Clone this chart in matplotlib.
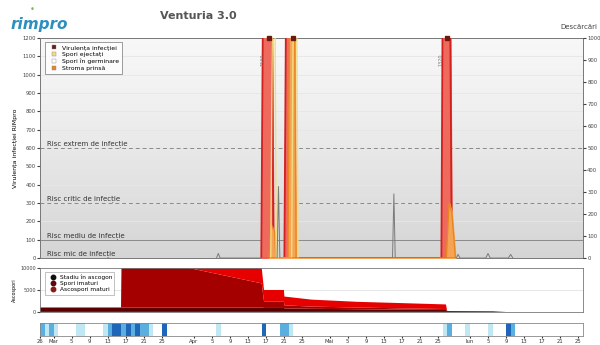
import numpy as np
import matplotlib.pyplot as plt

plt.rcParams['font.family'] = ['DejaVu Sans']

# zile numarate de la 26 februarie
vir_days = [48.9, 49.3, 51.2, 51.6, 54.0, 54.4, 56.0, 56.4, 88.7, 89.0, 90.6, 91.0]
vir_vals = [0, 1500, 1500, 0, 0, 1500, 1500, 0, 0, 1500, 1500, 0]

stroma_days = [50.6, 51.0, 51.8, 52.1, 54.8, 55.2, 56.2, 56.6, 89.8, 90.4, 91.0, 91.8]
stroma_vals = [0, 180, 150, 0, 0, 1500, 1500, 0, 0, 300, 250, 0]

eject_days = [51.0, 51.4, 51.9, 52.2, 55.6, 56.0, 56.7, 57.0]
eject_vals = [0, 1500, 1500, 0, 0, 1500, 1500, 0]

germ_days = [39.0, 39.4, 39.8, 52.4, 52.7, 53.0, 77.9, 78.2, 78.5,
             92.0, 92.4, 92.8, 98.5, 99.0, 99.5, 103.5, 104.0, 104.5]
germ_vals = [0, 25, 0, 0, 390, 0, 0, 350, 0, 0, 20, 0, 0, 25, 0, 0, 20, 0]

top_days = [50.7, 55.9, 90.0]
top_labels = ['1530', '', '1320']

risk_levels = [600, 300, 100, 0]
risk_names = ['Risc extrem de infecție', 'Risc critic de infecție',
              'Risc mediu de infecție', 'Risc mic de infecție']

# ascospori (stive)
asc_days = [0, 17.9, 18, 33, 49, 49.5, 53.9, 54, 60, 70, 80, 89.7, 90, 100, 103, 120]
asc_l1 = [1000, 1000, 1000, 1000, 1000, 900, 900, 800, 700, 600, 500, 450, 200, 150, 0, 0]
asc_l2 = [0, 0, 9000, 9000, 5500, 1500, 1500, 700, 500, 400, 300, 200, 0, 0, 0, 0]
asc_l3 = [0, 0, 0, 0, 3500, 2600, 2600, 2000, 1600, 1300, 1200, 1050, 0, 0, 0, 0]
asc_names = ['Stadiu în ascogon', 'Spori imaturi', 'Ascospori maturi']

# umezeala frunzei
wet_days = [0, 1, 2, 3, 8, 9, 14, 15, 16, 17, 18, 19, 20, 21, 22, 23, 24, 27, 39,
            49, 53, 54, 55, 89, 90, 94, 99, 103, 104]
wet_lvl = [2, 1, 2, 1, 1, 1, 1, 2, 3, 3, 2, 3, 2, 3, 2, 2, 1, 3, 1,
           3, 2, 2, 1, 1, 2, 1, 1, 3, 2]

tick_days = [0, 3, 7, 11, 15, 19, 23, 27, 34, 38, 42, 46, 50, 54, 58,
             64, 68, 72, 76, 80, 84, 88, 95, 99, 103, 107, 111, 115, 119]
tick_labels = ['26', 'Mar', '5', '9', '13', '17', '21', '25', 'Apr', '5', '9',
               '13', '17', '21', '25', 'Mai', '5', '9', '13', '17', '21', '25',
               'Iun', '5', '9', '13', '17', '21', '25']

fig = plt.figure(figsize=(6, 3.45), dpi=100)
ax = fig.add_axes([0.0667, 0.252, 0.905, 0.638])
ax2 = ax.twinx()
axa = fig.add_axes([0.0667, 0.096, 0.905, 0.127])
axw = fig.add_axes([0.0667, 0.026, 0.905, 0.038])

# fundal gradient gri
grad = np.linspace(0, 1, 100).reshape(-1, 1)
ax.imshow(grad, extent=[0, 120, 0, 1200], aspect='auto', cmap='Greys',
          vmin=-0.3, vmax=4.5, origin='upper', zorder=0)
ax.set_xlim(0, 120)
ax.set_ylim(0, 1200)
for y in range(100, 1300, 100):
    ax.axhline(y, color='#e6e6e6', lw=0.6, zorder=1)

for lvl, name in zip(risk_levels, risk_names):
    if lvl > 0:
        ls = '-' if lvl == 100 else (0, (4, 3))
        ax.axhline(lvl, color='#8a8a8a', lw=0.7, ls=ls, zorder=2)
    ax.text(1.5, lvl + 12, name, fontsize=5, color='#333333', zorder=3)

ax.fill_between(vir_days, vir_vals, color='#ee6a5c', zorder=4)
ax.plot(vir_days, vir_vals, color='#d02020', lw=1.3, zorder=5)
ax.fill_between(stroma_days, stroma_vals, color='#f4a454', zorder=6)
ax.plot(stroma_days, stroma_vals, color='#e8851e', lw=0.9, zorder=6)
ax.plot(eject_days, eject_vals, color='#f2dc82', lw=1.0, zorder=7)
ax.plot(germ_days, germ_vals, color='#7a7a7a', lw=0.7, zorder=7)
ax.plot(top_days, [1200] * len(top_days), 's', color='#6b1a10', ms=2.5,
        zorder=8, clip_on=False)
for d, lab in zip(top_days, top_labels):
    if lab:
        ax.text(d - 1.4, 1080, lab, rotation=90, fontsize=3.5, color='#777777',
                ha='center', va='center', zorder=8)

ax.set_xticks([])
ax.set_yticks(range(0, 1300, 100))
ax.tick_params(axis='y', labelsize=3.8, length=2, pad=1, colors='#444444')
ax.set_ylabel('Virulența infecției RIMpro', fontsize=4.5, labelpad=3)
for s in ax.spines.values():
    s.set_color('#777777')
    s.set_linewidth(0.7)

ax2.set_ylim(0, 1000)
ax2.set_yticks(range(0, 1100, 100))
ax2.tick_params(axis='y', labelsize=3.8, length=2, pad=1, colors='#444444')
for s in ax2.spines.values():
    s.set_visible(False)
fig.text(0.965, 0.915, 'Descărcări', fontsize=5, color='#444444', ha='center')

leg_h = [plt.Line2D([], [], ls='', marker='s', ms=3.2, mfc=c, mec='#888888', mew=0.3)
         for c in ['#6b1a10', '#f2dc82', '#ffffff', '#e8851e']]
leg = ax.legend(leg_h, ['Virulența infecției', 'Spori ejectați', 'Spori în germinare',
                        'Stroma prinsă'],
                loc='upper left', fontsize=4.4, frameon=True, borderpad=0.5,
                handletextpad=0.3, labelspacing=0.25, fancybox=False,
                bbox_to_anchor=(0.003, 0.995))
leg.get_frame().set_edgecolor('#555555')
leg.get_frame().set_linewidth(0.5)

# panou ascospori
axa.stackplot(asc_days, asc_l1, asc_l2, asc_l3,
              colors=['#5a0000', '#a50000', '#e60000'], lw=0)
axa.set_xlim(0, 120)
axa.set_ylim(0, 10000)
axa.axhline(5000, color='#dddddd', lw=0.5, zorder=0)
axa.set_xticks([])
axa.set_yticks([0, 5000, 10000])
axa.tick_params(axis='y', labelsize=3.5, length=2, pad=1, colors='#444444')
axa.set_ylabel('Ascospori', fontsize=3.5, labelpad=2)
for s in axa.spines.values():
    s.set_color('#777777')
    s.set_linewidth(0.6)
leg_a = [plt.Line2D([], [], ls='', marker='o', ms=3.2, mfc=c, mec=c)
         for c in ['#111111', '#5a0a0a', '#8a1a1a']]
la = axa.legend(leg_a, asc_names, loc='upper left', fontsize=4.2, fancybox=False,
                borderpad=0.4, handletextpad=0.2, labelspacing=0.2,
                bbox_to_anchor=(0.003, 0.98))
la.get_frame().set_edgecolor('#777777')
la.get_frame().set_linewidth(0.4)

# panou umezeala
wet_cols = {1: '#bfe8f2', 2: '#5aaee0', 3: '#1f66b8'}
axw.bar(wet_days, [1] * len(wet_days), width=1.0, align='edge',
        color=[wet_cols[v] for v in wet_lvl], lw=0)
axw.set_xlim(0, 120)
axw.set_ylim(0, 1)
axw.set_yticks([])
axw.set_xticks(tick_days)
axw.set_xticklabels(tick_labels)
axw.tick_params(axis='x', labelsize=3.8, length=1.5, pad=0.5, colors='#333333')
for s in axw.spines.values():
    s.set_color('#888888')
    s.set_linewidth(0.6)

fig.text(0.33, 0.945, 'Venturia 3.0', fontsize=8, fontweight='bold', color='#555555',
         ha='center')
fig.text(0.018, 0.915, 'rimpro', fontsize=11, style='italic', color='#2d8fc0',
         fontweight='bold')
fig.text(0.05, 0.965, '•', fontsize=6, color='#7ab648')

fig.savefig('out.png', dpi=100)
